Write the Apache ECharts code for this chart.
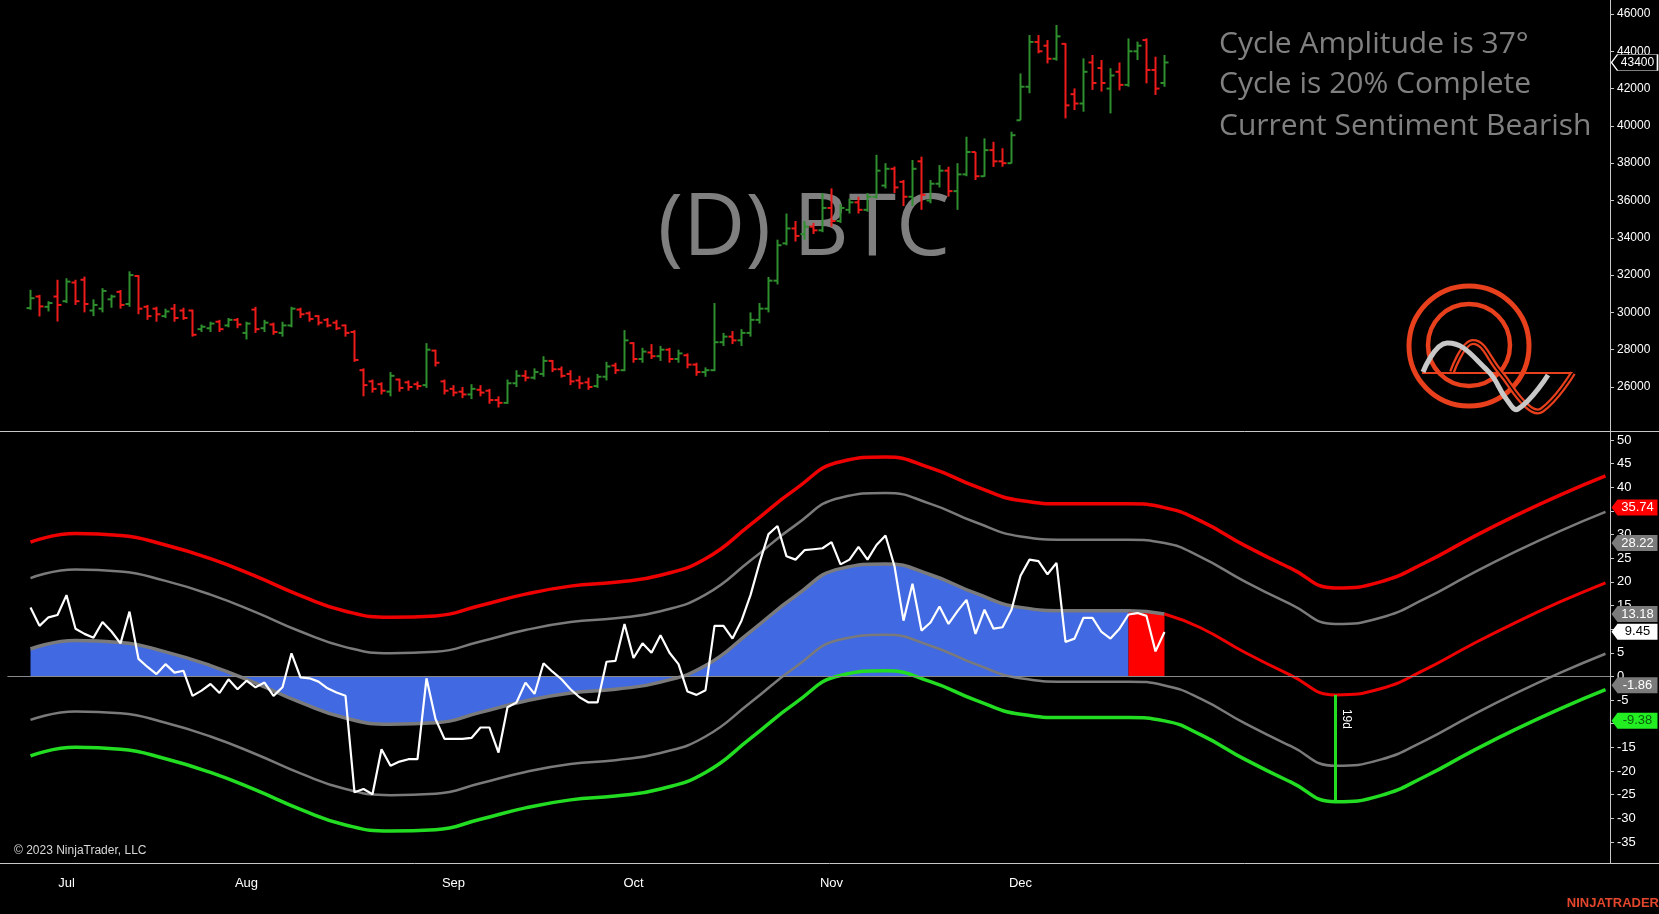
<!DOCTYPE html>
<html>
<head>
<meta charset="utf-8">
<title>(D) BTC cycle</title>
<script src="https://cdn.jsdelivr.net/npm/echarts@6/dist/echarts.min.js"></script>
<style>
  html, body { margin: 0; padding: 0; background: #000; }
  #chart { width: 1659px; height: 914px; }
</style>
</head>
<body>
<div id="chart"></div>
<script>
// trading days (weekdays, exchange holidays skipped); two empty slots before the first bar
const holidays = ['2023-07-04', '2023-09-04', '2023-11-23', '2023-12-25']
const days = []
for (let d = new Date(Date.UTC(2023, 5, 23)); days.length < 178; d.setUTCDate(d.getUTCDate() + 1)) {
  const s = d.toISOString().slice(0, 10)
  if (d.getUTCDay() === 0 || d.getUTCDay() === 6 || holidays.includes(s)) continue
  days.push(s)
}
const FIRST = 2
const cat = i => i + FIRST

const monthTicks = [['2023-07-03', 'Jul'], ['2023-08-01', 'Aug'], ['2023-09-01', 'Sep'],
  ['2023-10-02', 'Oct'], ['2023-11-01', 'Nov'], ['2023-12-01', 'Dec']]
const priceTicks = [26000, 28000, 30000, 32000, 34000, 36000, 38000, 40000, 42000, 44000, 46000]
const oscTicks = [-35, -30, -25, -20, -15, -10, -5, 0, 5, 10, 15, 20, 25, 30, 35, 40, 45, 50]

// daily bars: open, high, low, close
const priceBars = [
  [30230, 31210, 30140, 30760], [30850, 30940, 29780, 30320], [30300, 30600, 30050, 30500], [30850, 31750, 29510, 30400],
  [30600, 31830, 30500, 31650], [31600, 31750, 30400, 30600], [31750, 31920, 30000, 30450], [30100, 30700, 29800, 30400],
  [30200, 31300, 30000, 31150], [30700, 30950, 30250, 30850], [31100, 31200, 30200, 30400], [30450, 32200, 30300, 32000],
  [31950, 32000, 29900, 30200], [30300, 30400, 29600, 29800], [30200, 30300, 29500, 29900], [29800, 30200, 29700, 30050],
  [30200, 30450, 29500, 29700], [30100, 30250, 29600, 29700], [30100, 30150, 28700, 28800], [29100, 29350, 28950, 29230],
  [29150, 29500, 28950, 29400], [29500, 29600, 28950, 29100], [29300, 29700, 29200, 29600], [29600, 29700, 29150, 29350],
  [28900, 29500, 28550, 29400], [30150, 30300, 28900, 29100], [29150, 29600, 28950, 29450], [29350, 29450, 28800, 28950],
  [28900, 29500, 28700, 29300], [29300, 30300, 29200, 30200], [30150, 30250, 29700, 29900], [29950, 30050, 29500, 29650],
  [29800, 29850, 29300, 29450], [29600, 29700, 29200, 29300], [29450, 29600, 29050, 29150], [29300, 29350, 28700, 28900],
  [28950, 29050, 27350, 27450], [26900, 27000, 25500, 26100], [26300, 26400, 25700, 25900], [26150, 26250, 25600, 25800],
  [25750, 26800, 25500, 26600], [26400, 26450, 25750, 25950], [26250, 26350, 25800, 26000], [26150, 26300, 25850, 26050],
  [26100, 28350, 25950, 28000], [27950, 28000, 27100, 27300], [26300, 26400, 25600, 25800], [25900, 26100, 25500, 25700],
  [25750, 26000, 25400, 25600], [25600, 26150, 25350, 25900], [25850, 26100, 25500, 25700], [25800, 25900, 25100, 25300],
  [25300, 25500, 24900, 25150], [25150, 26400, 25100, 26200], [26200, 26900, 26000, 26600], [26600, 26900, 26300, 26500],
  [26500, 27000, 26400, 26800], [26700, 27650, 26550, 27400], [27400, 27450, 26800, 26950], [26950, 27100, 26500, 26600],
  [26700, 26900, 26100, 26300], [26350, 26600, 25900, 26200], [26250, 26500, 25850, 26000], [26050, 26700, 25950, 26550],
  [26550, 27350, 26350, 27100], [27150, 27300, 26700, 26900], [26900, 29050, 26850, 28500], [28350, 28400, 27300, 27500],
  [27500, 28100, 27300, 27900], [27850, 28300, 27500, 27650], [27650, 28200, 27400, 28000], [28000, 28100, 27300, 27500],
  [27500, 28000, 27300, 27800], [27700, 27800, 27000, 27200], [27200, 27300, 26600, 26800], [26800, 27050, 26550, 26900],
  [26900, 30500, 26850, 28400], [28400, 28900, 28200, 28700], [28700, 29000, 28300, 28500], [28500, 29100, 28200, 28900],
  [28900, 30000, 28700, 29600], [29600, 30500, 29400, 30200], [30200, 31900, 30000, 31700], [31700, 33900, 31500, 33600],
  [33700, 35300, 33600, 34500], [34500, 34900, 33800, 34100], [34200, 34900, 33900, 34600], [34600, 34800, 34200, 34400],
  [34400, 36400, 34300, 35600], [35600, 36650, 34600, 34900], [34900, 35800, 34800, 35600], [35500, 36100, 35300, 35900],
  [35900, 36200, 35300, 35500], [35500, 36400, 35400, 36200], [36200, 38450, 36100, 37600], [36800, 38000, 36650, 37700],
  [37700, 37820, 36400, 36700], [37000, 37100, 35700, 36200], [36200, 38170, 35700, 37700], [38100, 38350, 35500, 36300],
  [36000, 37100, 35850, 36900], [36900, 37900, 36700, 37600], [37600, 37810, 36210, 36500], [36500, 38000, 35500, 37400],
  [37400, 39420, 37300, 38600], [38600, 38600, 37100, 37300], [37300, 39330, 37280, 38700], [38700, 39150, 37800, 38100],
  [38100, 38800, 37810, 38000], [38000, 39690, 37990, 39500], [40300, 42810, 40300, 42100], [42100, 44870, 41750, 44500],
  [44500, 44870, 43890, 44000], [44300, 44600, 43350, 43600], [43600, 45410, 43500, 44800], [44400, 44430, 40400, 41100],
  [41700, 42010, 40850, 41200], [41200, 43620, 40760, 42900], [43400, 43800, 41930, 42300], [43100, 43530, 41840, 42300],
  [42000, 43090, 40670, 42700], [42900, 43400, 41900, 42200], [42200, 44690, 42100, 44000], [44000, 44520, 43530, 44300],
  [44600, 44690, 42280, 43000], [43000, 43710, 41660, 42000], [42300, 43800, 42100, 43400]
]

// price oscillator, one value per bar
const oscillator = [
  14.6, 10.7, 12.5, 13.0, 17.2, 10.1, 9.0, 8.2, 11.5, 9.5,
  7.0, 13.7, 3.7, 2.0, 0.5, 2.6, 0.8, 1.2, -4.1, -3.0,
  -1.6, -3.5, -0.6, -2.7, -0.9, -2.3, -1.3, -4.1, -2.3, 4.9,
  -0.2, -0.4, -1.1, -2.5, -3.4, -4.1, -24.5, -23.8, -24.9, -15.4,
  -18.9, -18.0, -17.5, -17.5, -0.4, -9.0, -13.2, -13.2, -13.2, -13.0,
  -10.8, -10.8, -16.1, -6.5, -5.5, -1.3, -3.7, 2.8, 1.0, -0.6,
  -2.7, -4.4, -5.5, -5.5, 3.1, 3.3, 11.1, 3.9, 7.0, 5.0,
  8.7, 5.0, 2.6, -3.2, -3.9, -2.9, 10.7, 10.7, 8.0, 11.8,
  17.2, 24.0, 30.1, 31.8, 25.4, 24.7, 26.7, 26.9, 27.1, 28.4,
  23.7, 24.7, 27.4, 24.7, 27.8, 29.8, 23.3, 11.8, 19.6, 9.7,
  11.4, 14.8, 11.1, 13.8, 16.2, 9.0, 14.1, 10.1, 10.4, 14.1,
  21.3, 24.7, 24.4, 21.6, 24.0, 7.3, 8.0, 12.4, 12.4, 9.4,
  8.0, 10.1, 13.1, 13.4, 12.8, 5.3, 9.4
]

// cycle line and its bands, read at these bar positions (past 126 = projection)
const bandIdx = [0, 5, 10, 15, 20, 25, 30, 35, 40, 45, 50, 55, 60, 65, 70, 75, 80, 85, 90, 95, 100, 105, 110, 115, 122, 126,
  130, 135, 140, 145, 150, 155, 160, 165, 170, 175]
const centerLine = [5.8, 7.6, 7.2, 5.2, 2.3, -1.4, -5.5, -8.8, -10.1, -9.8, -7.6, -5.2, -3.5, -2.7, -1.2, 2.3, 9.5, 17.0, 22.8, 23.8,
  21.5, 17.6, 14.6, 13.9, 13.9, 13.2, 10.3, 5.0, 0.3, -3.9, -2.6, 1.5, 6.6, 11.4, 15.8, 19.8]
const upperOuter = [28.4, 30.2, 29.8, 27.8, 24.9, 21.2, 17.1, 13.8, 12.5, 12.8, 15.0, 17.4, 19.1, 19.9, 21.4, 24.9, 32.1, 39.6, 45.4, 46.4,
  44.1, 40.2, 37.2, 36.5, 36.5, 35.7, 32.9, 27.6, 22.9, 18.7, 20.0, 24.1, 29.2, 34.0, 38.4, 42.4]
const upperInner = [20.8, 22.6, 22.2, 20.2, 17.3, 13.6, 9.5, 6.2, 4.9, 5.2, 7.4, 9.8, 11.5, 12.3, 13.8, 17.3, 24.5, 32.0, 37.8, 38.8,
  36.5, 32.6, 29.6, 28.9, 28.9, 28.2, 25.3, 20.0, 15.3, 11.1, 12.4, 16.5, 21.6, 26.4, 30.8, 34.8]
const lowerInner = [-9.2, -7.4, -7.8, -9.8, -12.7, -16.4, -20.5, -23.8, -25.1, -24.8, -22.6, -20.2, -18.5, -17.7, -16.2, -12.7, -5.5, 2.0, 7.8, 8.8,
  6.5, 2.6, -0.4, -1.1, -1.1, -1.9, -4.7, -10.0, -14.7, -18.9, -17.6, -13.5, -8.4, -3.6, 0.8, 4.8]
const lowerOuter = [-16.8, -15.0, -15.4, -17.4, -20.3, -24.0, -28.1, -31.4, -32.7, -32.4, -30.2, -27.8, -26.1, -25.3, -23.8, -20.3, -13.1, -5.6, 0.2, 1.2,
  -1.1, -5.0, -8.0, -8.7, -8.7, -9.4, -12.3, -17.6, -22.3, -26.5, -25.2, -21.1, -16.0, -11.2, -6.8, -2.8]

const LAST_BAR = 126
const BEARISH_FROM = 122
const CYCLE_LOW = 145
const lastClose = 43400
const lastValues = [35.74, 28.22, 13.18, 9.45, -1.86, -9.38]
const tagColors = [['#ff0000', '#ffffff'], ['#7b7b7b', '#ffffff'], ['#7b7b7b', '#ffffff'],
  ['#ffffff', '#000000'], ['#7b7b7b', '#ffffff'], ['#22ee22', '#0b5d0b']]

const UP = '#2f8f2f'
const DOWN = '#ee1b1b'
const AXIS = '#c8c8c8'
const LOGO = '#e8401c'
const TAG = 'path://M0,8 L6,0 L46,0 L46,16 L6,16 Z'

const pick = (vals, test) => bandIdx.map((i, n) => [cat(i), vals[n], i]).filter(p => test(p[2])).map(p => [p[0], p[1]])
const all = () => true

function renderBar(params, api) {
  const i = api.value(0)
  const x = api.coord([i, 0])[0]
  const yo = api.coord([i, api.value(1)])[1]
  const yh = api.coord([i, api.value(2)])[1]
  const yl = api.coord([i, api.value(3)])[1]
  const yc = api.coord([i, api.value(4)])[1]
  const style = { stroke: api.value(4) >= api.value(1) ? UP : DOWN, lineWidth: 2 }
  return {
    type: 'group',
    children: [
      { type: 'line', shape: { x1: x, y1: yh, x2: x, y2: yl }, style },
      { type: 'line', shape: { x1: x - 4, y1: yo, x2: x, y2: yo }, style },
      { type: 'line', shape: { x1: x, y1: yc, x2: x + 4, y2: yc }, style }
    ]
  }
}

function band(data, color, width, z) {
  return {
    type: 'line', xAxisIndex: 1, yAxisIndex: 1, data, smooth: 0.5, symbol: 'none',
    lineStyle: { color, width }, z, silent: true
  }
}

const monthSet = Object.fromEntries(monthTicks)
const axisFont = '"Liberation Sans Narrow", "Liberation Sans", Arial, sans-serif'
const infoFont = '30px "Open Sans"'

const myChart = echarts.init(document.querySelector('#chart'))
const option = {
  backgroundColor: '#000',
  animation: false,
  grid: [
    { left: 8, right: 49, top: 0, height: 431 },
    { left: 8, right: 49, top: 431, height: 432 }
  ],
  xAxis: [
    { type: 'category', gridIndex: 0, data: days, boundaryGap: true, show: false },
    {
      type: 'category', gridIndex: 1, data: days, boundaryGap: true,
      axisLine: { lineStyle: { color: AXIS } },
      axisTick: { alignWithLabel: true, interval: (idx, v) => !!monthSet[v], lineStyle: { color: AXIS } },
      axisLabel: {
        interval: (idx, v) => !!monthSet[v], formatter: v => monthSet[v] || '',
        color: '#ffffff', fontSize: 13, fontFamily: axisFont, margin: 14
      },
      splitLine: { show: false }
    }
  ],
  yAxis: [
    {
      type: 'value', gridIndex: 0, position: 'right', min: 23640, max: 46750, splitLine: { show: false },
      axisLine: { show: true, lineStyle: { color: AXIS } },
      axisTick: { show: true, customValues: priceTicks, length: 4, lineStyle: { color: AXIS } },
      axisLabel: { customValues: priceTicks, formatter: v => String(v), color: '#ffffff', fontSize: 12, fontFamily: 'Liberation Sans', margin: 7 }
    },
    {
      type: 'value', gridIndex: 1, position: 'right', min: -39.45, max: 51.9, splitLine: { show: false },
      axisLine: { show: true, lineStyle: { color: AXIS } },
      axisTick: { show: true, customValues: oscTicks, length: 4, lineStyle: { color: AXIS } },
      axisLabel: { customValues: oscTicks, formatter: v => String(v), color: '#ffffff', fontSize: 13, fontFamily: 'Liberation Sans', margin: 7 }
    }
  ],
  series: [
    {
      type: 'custom', xAxisIndex: 0, yAxisIndex: 0, renderItem: renderBar, clip: true,
      encode: { x: 0, y: [1, 2, 3, 4] },
      data: priceBars.map((b, i) => [cat(i), b[0], b[1], b[2], b[3]]), z: 3
    },
    {
      type: 'line', xAxisIndex: 0, yAxisIndex: 0, data: [[cat(LAST_BAR), lastClose]], symbol: 'none',
      lineStyle: { width: 0 }, silent: true,
      markPoint: {
        silent: true,
        data: [{
          coord: [days.length - 1, lastClose], value: lastClose, symbol: TAG, symbolSize: [46, 16], symbolOffset: [29, 0],
          itemStyle: { color: '#000000', borderColor: '#ffffff', borderWidth: 1 },
          label: { show: true, position: 'inside', offset: [3, 0], color: '#ffffff', fontSize: 12, fontFamily: 'Liberation Sans' }
        }]
      }
    },
    // blue fill between cycle line and zero, red for the bearish tail
    {
      type: 'line', xAxisIndex: 1, yAxisIndex: 1, data: pick(centerLine, i => i <= BEARISH_FROM), smooth: 0.5,
      symbol: 'none', lineStyle: { width: 0 }, areaStyle: { color: '#4169e1', opacity: 1, origin: 0 }, z: 1, silent: true
    },
    {
      type: 'line', xAxisIndex: 1, yAxisIndex: 1, data: pick(centerLine, i => i >= BEARISH_FROM && i <= LAST_BAR), smooth: 0.5,
      symbol: 'none', lineStyle: { width: 0 }, areaStyle: { color: '#ff0000', opacity: 1, origin: 0 }, z: 1, silent: true
    },
    band(pick(upperInner, all), '#7a7a7a', 2.5, 2),
    band(pick(lowerInner, all), '#7a7a7a', 2.5, 2),
    band(pick(upperOuter, all), '#ee0000', 3.5, 3),
    band(pick(lowerOuter, all), '#22dd22', 3.5, 3),
    band(pick(centerLine, i => i <= LAST_BAR), '#7a7a7a', 3.5, 3),
    Object.assign(band(pick(centerLine, i => i >= LAST_BAR), '#ee0000', 3, 3), {
      markLine: {
        silent: true, symbol: ['none', 'none'],
        lineStyle: { color: '#22dd22', width: 3, type: 'solid' },
        label: { show: true, formatter: '19d', position: 'insideStartTop', distance: [14, 5], color: '#ffffff', fontSize: 12, fontFamily: 'Liberation Sans' },
        data: [[
          { coord: [cat(CYCLE_LOW), centerLine[bandIdx.indexOf(CYCLE_LOW)]] },
          { coord: [cat(CYCLE_LOW), lowerOuter[bandIdx.indexOf(CYCLE_LOW)]] }
        ]]
      }
    }),
    {
      type: 'line', xAxisIndex: 1, yAxisIndex: 1, data: oscillator.map((v, i) => [cat(i), v]), symbol: 'none',
      lineStyle: { color: '#ffffff', width: 2.2 }, z: 5, silent: true,
      markLine: {
        silent: true, symbol: ['none', 'none'], label: { show: false },
        lineStyle: { color: '#8a8a8a', width: 1, type: 'solid' }, data: [{ yAxis: 0 }]
      },
      markPoint: {
        silent: true,
        data: lastValues.map((v, n) => ({
          coord: [days.length - 1, v], value: v.toFixed(2), symbol: TAG, symbolSize: [46, 16], symbolOffset: [29, 0],
          itemStyle: { color: tagColors[n][0] },
          label: { show: true, position: 'inside', offset: [3, 0], color: tagColors[n][1], fontSize: 13, fontFamily: 'Liberation Sans' }
        }))
      }
    }
  ],
  graphic: [
    { type: 'text', z: 0, style: { text: '(D) BTC', x: 804, y: 230, textAlign: 'center', textVerticalAlign: 'middle', font: '86px "Open Sans"', fill: '#7f7f7f' } },
    { type: 'text', z: 0, style: { text: 'Cycle Amplitude is 37°', x: 1219, y: 44, textVerticalAlign: 'middle', font: infoFont, fill: '#808080' } },
    { type: 'text', z: 0, style: { text: 'Cycle is 20% Complete', x: 1219, y: 84, textVerticalAlign: 'middle', font: infoFont, fill: '#808080' } },
    { type: 'text', z: 0, style: { text: 'Current Sentiment Bearish', x: 1219, y: 126, textVerticalAlign: 'middle', font: infoFont, fill: '#808080' } },
    { type: 'text', z: 10, style: { text: '© 2023 NinjaTrader, LLC', x: 14, y: 851, textVerticalAlign: 'middle', font: '12px ' + axisFont, fill: '#d8d8d8' } },
    { type: 'text', z: 10, style: { text: 'NINJATRADER', x: 1659, y: 903, textAlign: 'right', textVerticalAlign: 'middle', font: 'bold 13px "Liberation Sans Narrow", "Liberation Sans"', fill: '#e2462c' } },
    { type: 'line', z: 10, shape: { x1: 0, y1: 431.5, x2: 1659, y2: 431.5 }, style: { stroke: AXIS, lineWidth: 1 } },
    { type: 'line', z: 10, shape: { x1: 0, y1: 863.5, x2: 1659, y2: 863.5 }, style: { stroke: AXIS, lineWidth: 1 } },
    {
      type: 'group', z: 1,
      children: [
        { type: 'circle', shape: { cx: 1469, cy: 346, r: 60 }, style: { fill: 'none', stroke: LOGO, lineWidth: 5 } },
        { type: 'circle', shape: { cx: 1469, cy: 345, r: 41 }, style: { fill: 'none', stroke: LOGO, lineWidth: 4.5 } },
        { type: 'line', shape: { x1: 1422, y1: 373, x2: 1573, y2: 373 }, style: { stroke: LOGO, lineWidth: 2 } },
        { type: 'polyline', shape: { points: [[1452, 372], [1473, 342], [1500, 372], [1527, 406], [1542, 410], [1573, 373]], smooth: 0.45 }, style: { stroke: LOGO, lineWidth: 6, fill: 'none' } },
        { type: 'polyline', shape: { points: [[1452, 372], [1473, 342], [1500, 372], [1527, 406], [1542, 410], [1573, 373]], smooth: 0.45 }, style: { stroke: '#000', lineWidth: 1.5, fill: 'none' } },
        { type: 'polyline', shape: { points: [[1423, 372], [1447, 343], [1487, 370], [1507, 400], [1518, 409], [1548, 375]], smooth: 0.45 }, style: { stroke: '#c8c8c8', lineWidth: 5, fill: 'none' } }
      ]
    }
  ]
}
myChart.setOption(option)
</script>
</body>
</html>
